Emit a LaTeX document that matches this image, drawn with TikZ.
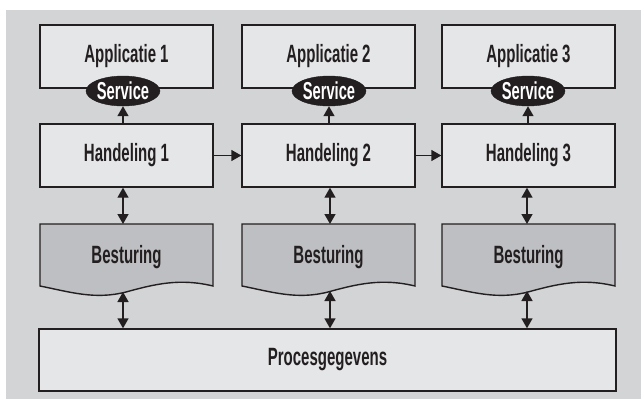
\documentclass[tikz,border=0pt]{standalone}
\usepackage{fontspec}
\setmainfont[FakeStretch=0.6]{Liberation Sans}
\usetikzlibrary{arrows.meta,shapes.geometric}
\definecolor{bggray}{RGB}{211,212,214}
\definecolor{boxgray}{RGB}{229,230,232}
\definecolor{ctrlgray}{RGB}{190,191,194}
\definecolor{ink}{RGB}{35,31,32}
\begin{document}
\begin{tikzpicture}[x=1pt,y=-1pt,
  lbl/.style={font=\fontsize{25}{27}\selectfont\bfseries, text=ink},
  box/.style={draw=ink, line width=1.4pt, fill=boxgray, minimum width=173pt, minimum height=63pt, inner sep=0pt, lbl},
  svc/.style={ellipse, fill=ink, draw=ink, minimum width=63pt, minimum height=30pt, inner sep=0pt, font=\fontsize{24.5}{26}\selectfont\bfseries, text=white},
  arr/.style={draw=ink, line width=1.4pt, -{Triangle[length=10pt,width=11pt]}},
  darr/.style={draw=ink, line width=1.4pt, {Triangle[length=10pt,width=11pt]}-{Triangle[length=10pt,width=11pt]}}
]
\useasboundingbox (0,0) rectangle (641,399);
\fill[white] (0,0) rectangle (641,399);
\fill[bggray] (6,10) rectangle (641,399);

% applications
\node[box] (app1) at (126.5,56.5) {Applicatie 1};
\node[box] (app2) at (328.5,56.5) {Applicatie 2};
\node[box] (app3) at (528.5,56.5) {Applicatie 3};

% services
\node[svc] (svc1) at (123,91) {Service};
\node[svc] (svc2) at (329,91) {Service};
\node[svc] (svc3) at (528,91) {Service};

% handelingen
\node[box] (h1) at (126.5,155.5) {Handeling 1};
\node[box] (h2) at (328.5,155.5) {Handeling 2};
\node[box] (h3) at (528.5,155.5) {Handeling 3};

% besturing (document shapes)
\foreach \i/\x in {1/40,2/242,3/442}{
  \draw[draw=ink, line width=1.4pt, fill=ctrlgray]
    (\x,224) -- (\x+173,224) -- (\x+173,286)
    .. controls (\x+140,278) and (\x+115,284) .. (\x+86,292)
    .. controls (\x+55,300) and (\x+30,292) .. (\x,286) -- cycle;
}
\node[lbl] (b1) at (126.5,257) {Besturing};
\node[lbl] (b2) at (328.5,257) {Besturing};
\node[lbl] (b3) at (528.5,257) {Besturing};
\coordinate (b1t) at (123,224); \coordinate (b1b) at (123,292);
\coordinate (b2t) at (330,224); \coordinate (b2b) at (330,291);
\coordinate (b3t) at (527,224); \coordinate (b3b) at (527,291);

% proces data
\node[box, minimum width=577pt, minimum height=62pt] (pg) at (327.5,360) {Procesgegevens};

% connectors
\draw[arr] (h1.north -| svc1) -- (svc1.south);
\draw[arr] (h2.north -| svc2) -- (svc2.south);
\draw[arr] (h3.north -| svc3) -- (svc3.south);

\draw[arr] (h1.east) -- (h2.west);
\draw[arr] (h2.east) -- (h3.west);

\draw[darr] (h1.south -| b1t) -- (b1t);
\draw[darr] (h2.south -| b2t) -- (b2t);
\draw[darr] (h3.south -| b3t) -- (b3t);

\draw[darr] (b1b) -- (pg.north -| b1b);
\draw[darr] (b2b) -- (pg.north -| b2b);
\draw[darr] (b3b) -- (pg.north -| b3b);
\end{tikzpicture}
\end{document}
